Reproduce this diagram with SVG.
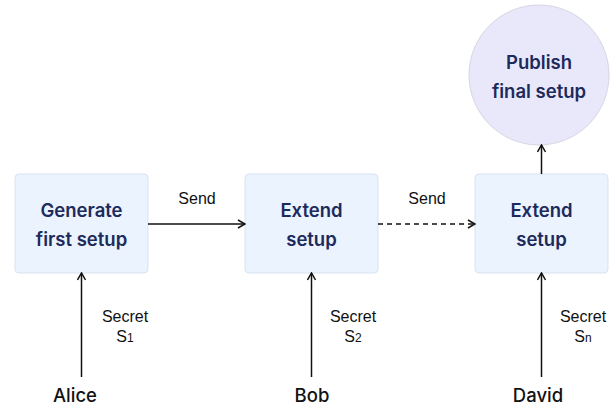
<svg xmlns="http://www.w3.org/2000/svg" width="615" height="409" viewBox="0 0 615 409">
<style>
.box{fill:#eaf3fe;stroke:#d9e3ef;stroke-width:1}
.circ{fill:#e8e8fa;stroke:#d6d6e4;stroke-width:1}
.nt{font-family:Inter,"Liberation Sans",sans-serif;font-weight:600;font-size:18.5px;fill:#1d2a5c;text-anchor:middle}
.lb{font-family:"Liberation Sans",Arial,sans-serif;font-size:16px;fill:#111;text-anchor:middle}
.nm{font-family:Inter,"Liberation Sans",sans-serif;font-weight:500;font-size:18.5px;fill:#111;text-anchor:middle}
.ln{stroke:#111;stroke-width:1.5;fill:none}
.dash{stroke-dasharray:5 4}
</style>
<defs>
<marker id="ah" viewBox="0 0 10 10" refX="9" refY="5" markerWidth="10" markerHeight="10" markerUnits="userSpaceOnUse" orient="auto">
<path d="M2,1 L9,5 L2,9" fill="none" stroke="#111" stroke-width="1.5"/>
</marker>
</defs>
<g id="n1">
<rect class="box" x="15" y="174" width="133" height="99" rx="4"/>
<text class="nt" x="81.5" y="217">Generate</text>
<text class="nt" x="81.5" y="246">first setup</text>
</g>
<g id="n2">
<rect class="box" x="245" y="174" width="133" height="99" rx="4"/>
<text class="nt" x="311.5" y="217">Extend</text>
<text class="nt" x="311.5" y="246">setup</text>
</g>
<g id="n3">
<rect class="box" x="475" y="174" width="133" height="99" rx="4"/>
<text class="nt" x="541.5" y="217">Extend</text>
<text class="nt" x="541.5" y="246">setup</text>
</g>
<g id="n4">
<circle class="circ" cx="539" cy="75" r="70"/>
<text class="nt" x="539" y="69">Publish</text>
<text class="nt" x="539" y="98">final setup</text>
</g>
<g id="alice"><text class="nm" x="75" y="402">Alice</text></g>
<g id="bob"><text class="nm" x="312" y="402">Bob</text></g>
<g id="david"><text class="nm" x="538" y="402">David</text></g>
<g id="connectors">
<line class="ln" x1="148" y1="224" x2="245" y2="224" marker-end="url(#ah)"/>
<text class="lb" x="197" y="204">Send</text>
<line class="ln dash" x1="378" y1="224" x2="475" y2="224" marker-end="url(#ah)"/>
<text class="lb" x="427" y="204">Send</text>
<line class="ln" x1="541.5" y1="174" x2="541.5" y2="145" marker-end="url(#ah)"/>
<line class="ln" x1="81.5" y1="377" x2="81.5" y2="273" marker-end="url(#ah)"/>
<line class="ln" x1="311.5" y1="377" x2="311.5" y2="273" marker-end="url(#ah)"/>
<line class="ln" x1="541.5" y1="377" x2="541.5" y2="273" marker-end="url(#ah)"/>
<text class="lb" x="125" y="322">Secret</text>
<text class="lb" x="125" y="342">S<tspan font-size="12">1</tspan></text>
<text class="lb" x="353" y="322">Secret</text>
<text class="lb" x="353" y="342">S<tspan font-size="12">2</tspan></text>
<text class="lb" x="583" y="322">Secret</text>
<text class="lb" x="583" y="342">S<tspan font-size="12">n</tspan></text>
</g>
</svg>
